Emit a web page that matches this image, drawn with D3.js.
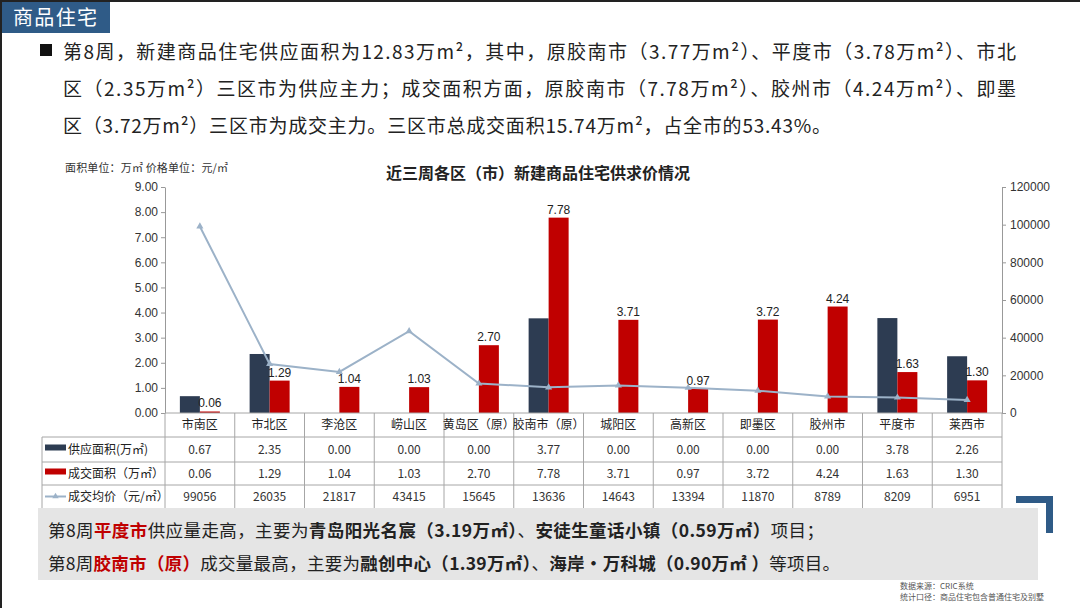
<!DOCTYPE html>
<html><head><meta charset="utf-8">
<script src="https://cdn.jsdelivr.net/npm/d3@7/dist/d3.min.js"></script>
<style>
html,body{margin:0;padding:0;background:#fff;}
svg{display:block;}
</style></head>
<body>
<svg id="c" width="1080" height="608"></svg>
<script>
const categories = ["市南区","市北区","李沧区","崂山区","黄岛区（原）","胶南市（原）","城阳区","高新区","即墨区","胶州市","平度市","莱西市"];
const supplyArea = [0.67,2.35,0.00,0.00,0.00,3.77,0.00,0.00,0.00,0.00,3.78,2.26];
const dealArea   = [0.06,1.29,1.04,1.03,2.70,7.78,3.71,0.97,3.72,4.24,1.63,1.30];
const dealPrice  = [99056,26035,21817,43415,15645,13636,14643,13394,11870,8789,8209,6951];
const leftTicks  = [0,1,2,3,4,5,6,7,8,9];
const rightTicks = [0,20000,40000,60000,80000,100000,120000];
const seriesNames = ["供应面积(万㎡)","成交面积（万㎡）","成交均价（元/㎡）"];

const CJK = "'Noto Sans CJK SC','Noto Sans',sans-serif";
const NUM = "'Liberation Sans',Arial,sans-serif";
const NAVY = "#2d3c52", RED = "#c00000", LINE = "#9cb2c8", BLUE = "#2f5b87";

const svg = d3.select("#c");

// frame
svg.append("rect").attr("x",0).attr("y",0).attr("width",1080).attr("height",2).attr("fill","#222");
svg.append("rect").attr("x",0).attr("y",0).attr("width",2).attr("height",608).attr("fill","#222");

// header box
svg.append("rect").attr("x",2).attr("y",2).attr("width",108).attr("height",31).attr("fill",BLUE);
svg.append("text").attr("x",13).attr("y",25).attr("fill","#fff").attr("font-family",CJK)
  .attr("font-size",20).attr("textLength",84).text("商品住宅");

// bullet paragraph
const para = [
  "第8周，新建商品住宅供应面积为12.83万m²，其中，原胶南市（3.77万m²）、平度市（3.78万m²）、市北",
  "区（2.35万m²）三区市为供应主力；成交面积方面，原胶南市（7.78万m²）、胶州市（4.24万m²）、即墨",
  "区（3.72万m²）三区市为成交主力。三区市总成交面积15.74万m²，占全市的53.43%。"
];
const paraLen = [953, 953, 768];
svg.append("rect").attr("x",40).attr("y",44).attr("width",12).attr("height",12).attr("fill","#111");
para.forEach((t,i)=>{
  svg.append("text").attr("x",63).attr("y",59+i*37).attr("fill","#222")
    .attr("font-family",CJK).attr("font-size",19).attr("textLength",paraLen[i])
    .attr("lengthAdjust","spacing").text(t);
});

// chart area
const L = 165, R = 1002, Y0 = 413, Y9 = 187;
const x = d3.scaleBand().domain(categories).range([L,R]).padding(0);
const step = x.step();
const xi = d3.scaleBand().domain([0,1]).range([0,step]).paddingInner(0).paddingOuter((step/20-2)/2);
const yL = d3.scaleLinear().domain([0,9]).range([Y0,Y9]);
const yR = d3.scaleLinear().domain([0,120000]).range([Y0,Y9]);

// title & unit
svg.append("text").attr("x",538).attr("y",179).attr("text-anchor","middle").attr("font-family",CJK)
  .attr("font-size",16).attr("font-weight","bold").attr("fill","#222").text("近三周各区（市）新建商品住宅供求价情况");
svg.append("text").attr("x",65).attr("y",172).attr("font-family",CJK).attr("font-size",11)
  .attr("fill","#333").attr("textLength",163).text("面积单位：万㎡ 价格单位：元/㎡");

// axes
const axL = svg.append("g").attr("transform",`translate(${L},0)`)
  .call(d3.axisLeft(yL).tickValues(leftTicks).tickFormat(d3.format(".2f")).tickSize(4).tickSizeOuter(0));
const axR = svg.append("g").attr("transform",`translate(${R},0)`)
  .call(d3.axisRight(yR).tickValues(rightTicks).tickFormat(d=>String(d)).tickSize(4).tickSizeOuter(0));
[axL,axR].forEach(a=>{
  a.select(".domain").attr("stroke","#999");
  a.selectAll(".tick line").attr("stroke","#999");
  a.selectAll(".tick text").attr("font-family",NUM).attr("font-size",12).attr("fill","#333");
});
axL.selectAll(".tick text").attr("x",-7);
axR.selectAll(".tick text").attr("x",8);

// bars
const g = svg.append("g");
g.selectAll("rect.s").data(supplyArea).join("rect").attr("class","s")
  .attr("x",(d,i)=>x(categories[i])+xi(0)).attr("width",xi.bandwidth())
  .attr("y",d=>yL(d)).attr("height",d=>Y0-yL(d)).attr("fill",NAVY);
g.selectAll("rect.d").data(dealArea).join("rect").attr("class","d")
  .attr("x",(d,i)=>x(categories[i])+xi(1)).attr("width",xi.bandwidth())
  .attr("y",d=>yL(d)).attr("height",d=>Y0-yL(d)).attr("fill",RED);

// line
const cx = i => x(categories[i]) + step/2;
g.append("path").datum(dealPrice)
  .attr("d",d3.line().x((d,i)=>cx(i)).y(d=>yR(d)))
  .attr("fill","none").attr("stroke",LINE).attr("stroke-width",2);
g.selectAll("path.m").data(dealPrice).join("path").attr("class","m")
  .attr("d",d3.symbol(d3.symbolTriangle,22))
  .attr("transform",(d,i)=>`translate(${cx(i)},${yR(d)})`).attr("fill",LINE);

// labels on red bars
g.selectAll("text.lb").data(dealArea).join("text").attr("class","lb")
  .attr("x",(d,i)=>x(categories[i])+xi(1)+xi.bandwidth()/2)
  .attr("y",d=>yL(d)-4).attr("text-anchor","middle")
  .attr("font-family",NUM).attr("font-size",12).attr("fill","#222")
  .text(d=>d3.format(".2f")(d));

// table
const TL = 42, rows = [413,437,462,485,508];
const tg = svg.append("g");
const border = "#a6a6a6";
tg.append("line").attr("x1",L).attr("x2",R).attr("y1",rows[0]).attr("y2",rows[0]).attr("stroke",border);
for(let r=1;r<rows.length-1;r++){
  tg.append("line").attr("x1",TL).attr("x2",R).attr("y1",rows[r]).attr("y2",rows[r]).attr("stroke",border);
}
tg.append("line").attr("x1",TL).attr("x2",TL).attr("y1",rows[1]).attr("y2",rows[4]).attr("stroke",border);
categories.forEach((c,i)=>{
  tg.append("line").attr("x1",x(c)).attr("x2",x(c)).attr("y1",rows[0]).attr("y2",rows[4]).attr("stroke",border);
});
tg.append("line").attr("x1",R).attr("x2",R).attr("y1",rows[0]).attr("y2",rows[4]).attr("stroke",border);
tg.selectAll("text.cat").data(categories).join("text").attr("class","cat")
  .attr("x",c=>x(c)+step/2).attr("y",(rows[0]+rows[1])/2+4).attr("text-anchor","middle")
  .attr("font-family",CJK).attr("font-size",12).attr("fill","#222").text(c=>c);
const fmtRows = [supplyArea.map(d=>d3.format(".2f")(d)), dealArea.map(d=>d3.format(".2f")(d)), dealPrice.map(String)];
fmtRows.forEach((vals,r)=>{
  const yc = (rows[r+1]+rows[r+2])/2;
  tg.selectAll(`text.v${r}`).data(vals).join("text").attr("class",`v${r}`)
    .attr("x",(d,i)=>cx(i)).attr("y",yc+4).attr("text-anchor","middle")
    .attr("font-family",CJK).attr("font-size",12).attr("fill","#333").text(d=>d);
  tg.append("text").attr("x",68).attr("y",yc+4).attr("font-family",CJK).attr("font-size",12)
    .attr("fill","#222").text(seriesNames[r]);
});
tg.append("rect").attr("x",45).attr("y",(rows[1]+rows[2])/2-5).attr("width",21).attr("height",6).attr("fill",NAVY);
tg.append("rect").attr("x",45).attr("y",(rows[2]+rows[3])/2-5).attr("width",21).attr("height",6).attr("fill",RED);
const ly = (rows[3]+rows[4])/2;
tg.append("line").attr("x1",45).attr("x2",66).attr("y1",ly).attr("y2",ly).attr("stroke",LINE).attr("stroke-width",2);
tg.append("path").attr("d",d3.symbol(d3.symbolTriangle,18)).attr("transform",`translate(55.5,${ly})`).attr("fill",LINE);

// bottom gray box
svg.append("rect").attr("x",38).attr("y",508).attr("width",1000).attr("height",72).attr("fill","#e5e5e5");
const blines = [
  [["第8周","n"],["平度市","r"],["供应量走高，主要为","n"],["青岛阳光名宸（3.19万㎡）","b"],["、","n"],["安徒生童话小镇（0.59万㎡）","b"],["项目；","n"]],
  [["第8周","n"],["胶南市（原）","r"],["成交量最高，主要为","n"],["融创中心（1.39万㎡）","b"],["、","n"],["海岸·万科城（0.90万㎡ ）","b"],["等项目。","n"]]
];
const bLen = [776, 792];
blines.forEach((segs,i)=>{
  const t = svg.append("text").attr("x",48).attr("y",537+i*33).attr("font-family",CJK).attr("font-size",17.5)
    .attr("fill","#222").attr("textLength",bLen[i]).attr("lengthAdjust","spacing");
  segs.forEach(([s,k])=>{
    const sp = t.append("tspan").text(s);
    if(k==="r") sp.attr("fill",RED).attr("font-weight","bold");
    if(k==="b") sp.attr("font-weight","bold");
  });
});

// blue corner bracket
svg.append("path").attr("d","M1016,496 L1053,496 L1053,533 L1046,533 L1046,503 L1016,503 Z").attr("fill",BLUE);

// source
svg.append("text").attr("x",900).attr("y",589).attr("font-family",CJK).attr("font-size",8).attr("fill","#555").text("数据来源：CRIC系统");
svg.append("text").attr("x",900).attr("y",600).attr("font-family",CJK).attr("font-size",8).attr("fill","#555").text("统计口径：商品住宅包含普通住宅及别墅");
</script>
</body></html>
